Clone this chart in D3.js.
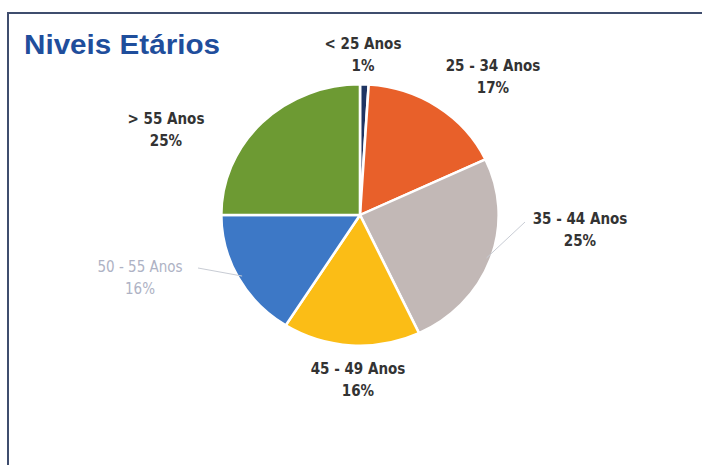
<!DOCTYPE html>
<html>
<head>
<meta charset="utf-8">
<script src="https://cdn.jsdelivr.net/npm/d3@7"></script>
<style>
  body { margin: 0; background: #fff; overflow: hidden; }
  svg { display: block; }
  text { font-family: "Liberation Sans Narrow", "DejaVu Sans Condensed", "Liberation Sans", sans-serif; }
</style>
</head>
<body>
<div id="chart"></div>
<script>
// 1: DATA
const categories = ["< 25 Anos", "25 - 34 Anos", "35 - 44 Anos", "45 - 49 Anos", "50 - 55 Anos", "> 55 Anos"];
const values = [1, 17, 25, 16, 16, 25];
const colors = ["#1f3563", "#e8602a", "#c2b8b6", "#fbbd16", "#3d78c6", "#6d9a33"];

// label layout (centre of the two-line label block)
const labelPos = [[363, 55], [493, 77], [580, 230], [358, 380], [140, 278], [166, 130]];

const width = 702, height = 465;
const cx = 360, cy = 215, radius = 134;

const svg = d3.select("#chart")
    .append("svg")
    .attr("width", width)
    .attr("height", height);

// frame (left + top lines)
svg.append("path")
    .attr("d", `M8,${height} L8,13 L${width},13`)
    .attr("fill", "none")
    .attr("stroke", "#3f4d6e")
    .attr("stroke-width", 2);

// Title
svg.append("text")
    .attr("x", 24)
    .attr("y", 54)
    .style("font-family", "'Liberation Sans', Arial, sans-serif")
    .style("font-size", "27px")
    .style("font-weight", "bold")
    .attr("fill", "#1f4e9c")
    .attr("textLength", 196)
    .attr("lengthAdjust", "spacingAndGlyphs")
    .text("Niveis Etários");

const data = categories.map((c, i) => ({ name: c, value: values[i], color: colors[i] }));

const pie = d3.pie().value(d => d.value).sort(null);
const arc = d3.arc().innerRadius(0).outerRadius(radius);
const arcs = pie(data);

const g = svg.append("g")
    .attr("transform", `translate(${cx},${cy}) scale(1.035,0.975)`);

// leader lines (faint)
const leaders = [[2, 525, 222], [4, 198, 268]];
leaders.forEach(([i, lx, ly]) => {
    const a = arcs[i];
    const mid = (a.startAngle + a.endAngle) / 2;
    const px = cx + Math.sin(mid) * radius * 1.035 * 0.97;
    const py = cy - Math.cos(mid) * radius * 0.975 * 0.97;
    svg.append("line")
        .attr("x1", lx).attr("y1", ly)
        .attr("x2", px).attr("y2", py)
        .attr("stroke", "#c8ccd4")
        .attr("stroke-width", 1);
});

g.selectAll("path.slice")
    .data(arcs)
    .enter()
    .append("path")
    .attr("class", "slice")
    .attr("d", arc)
    .attr("fill", d => d.data.color)
    .attr("stroke", "#fff")
    .attr("stroke-width", 2.5);

// labels
const labels = svg.selectAll("g.label")
    .data(arcs)
    .enter()
    .append("g")
    .attr("class", "label")
    .attr("transform", (d, i) => `translate(${labelPos[i][0]},${labelPos[i][1]})`);

labels.append("text")
    .attr("text-anchor", "middle")
    .attr("y", -6)
    .style("font-size", "15px")
    .attr("fill", (d, i) => i === 4 ? "#aeb2c4" : "#333")
    .style("font-weight", (d, i) => i === 4 ? "normal" : "bold")
    .text(d => d.data.name);

labels.append("text")
    .attr("text-anchor", "middle")
    .attr("y", 16)
    .style("font-size", "15px")
    .attr("fill", (d, i) => i === 4 ? "#aeb2c4" : "#333")
    .style("font-weight", (d, i) => i === 4 ? "normal" : "bold")
    .text(d => `${d.data.value}%`);
</script>
</body>
</html>
